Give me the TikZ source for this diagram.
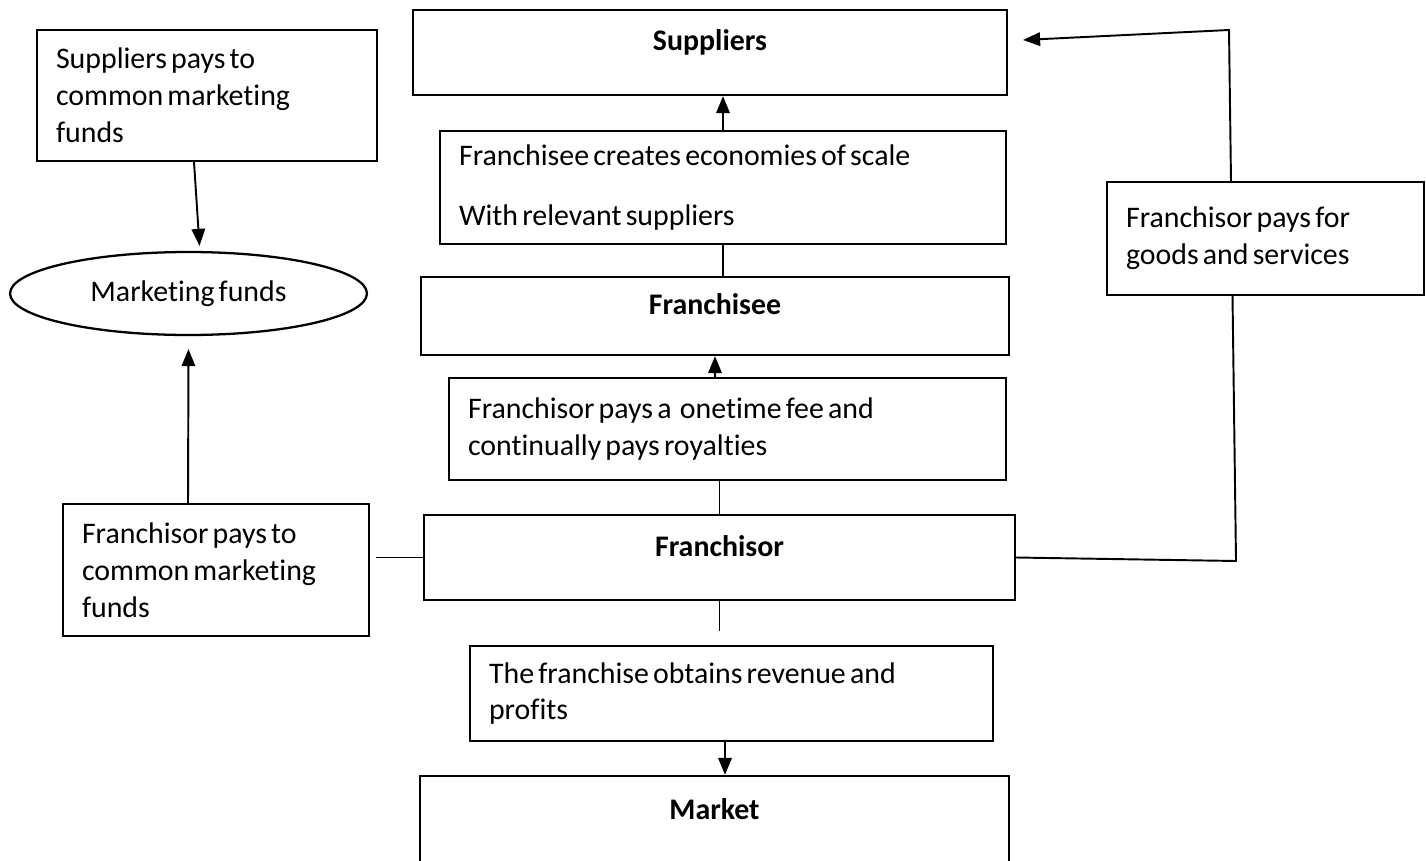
\documentclass[tikz,border=0pt]{standalone}
\usepackage{fontspec}
\setmainfont{Carlito}[WordSpace=0.6,Ligatures=NoCommon]
\usetikzlibrary{shapes.geometric,arrows.meta}

\begin{document}
\begin{tikzpicture}[
    x=0.02cm, y=-0.02cm,
    line width=1.1pt,
    font=\fontsize{17}{21}\selectfont,
    box/.style={
        draw,
        fill=white,
        line width=1.3pt,
        inner xsep=0.38cm,
        align=left,
        execute at begin node={\spaceskip=0.14em\relax}
        },
    head/.style={
        box,
        align=center,
        font=\fontsize{17}{21}\selectfont\bfseries,
        text height=0.4cm,
        text depth=0.46cm
        },
    fund/.style={
        ellipse,
        draw,
        line width=1.3pt,
        inner sep=0pt
        },
    arr/.style={-{Triangle[length=0.34cm,width=0.27cm]}},
]
\useasboundingbox (0,0) rectangle (1426,861);

% marketing side
\node[box, text width=6.04cm, minimum height=2.62cm](spay) at (207,95.5){Suppliers pays to\\common marketing\\funds};
\node[fund, minimum width=7.14cm, minimum height=1.66cm](mfund) at (188.5,293.5){Marketing funds};
\node[box, text width=5.36cm, minimum height=2.64cm](fpay) at (216,570){Franchisor pays to\\common marketing\\funds};

% main column
\node[head, minimum width=11.88cm, minimum height=1.7cm](sup) at (710,52.5){Suppliers};
\node[box, text width=10.56cm, minimum height=2.26cm](econ) at (723,187.5){Franchisee creates economies of scale\\[0.46cm]With relevant suppliers};
\node[head, minimum width=11.76cm, minimum height=1.56cm](fsee) at (715,316){Franchisee};
\node[box, text width=10.38cm, minimum height=2.04cm](fee) at (727.5,429){Franchisor pays a\ \ onetime fee and\\continually pays royalties};
\node[head, minimum width=11.82cm, minimum height=1.7cm](fsor) at (719.5,557.5){Franchisor};
\node[box, text width=9.7cm, minimum height=1.9cm](rev) at (731.5,693.5){The franchise obtains revenue and\\profits};
\node[head, minimum width=11.78cm, minimum height=1.8cm](mkt) at (714.5,821){Market};

\draw[arr] ([xshift=-0.26cm]spay.south) -- ([xshift=0.22cm,yshift=0.1cm]mfund.north);
\draw[arr] ([xshift=-0.56cm]fpay.north) -- ([yshift=-0.26cm]mfund.south);
\draw ([xshift=0.12cm]fpay.east |- fsor.west) -- (fsor.west);

\draw[arr] (econ.north) -- (econ.north |- sup.south);
\draw (econ.south) -- (econ.south |- fsee.north);
\draw[arr] (fee.north -| fsee.south) -- (fsee.south);
\draw (fee.south -| fsor.north) -- (fsor.north);
\coordinate (cut) at ([yshift=-0.6cm]fsor.south);
\draw (fsor.south) -- (cut);
\draw[arr] ([xshift=-0.13cm]rev.south) -- ([xshift=-0.13cm]rev.south |- mkt.north);

% loop back to suppliers
\coordinate (rb) at (1236,561);
\coordinate (rt) at (1229,30);
\draw[arr] (fsor.east) -- (rb) -- (rt) -- ([xshift=0.3cm,yshift=0.25cm]sup.east);
\node[box, text width=5.58cm, minimum height=2.26cm](goods) at (1265.5,238.5){Franchisor pays for\\goods and services};

\end{tikzpicture}
\end{document}
